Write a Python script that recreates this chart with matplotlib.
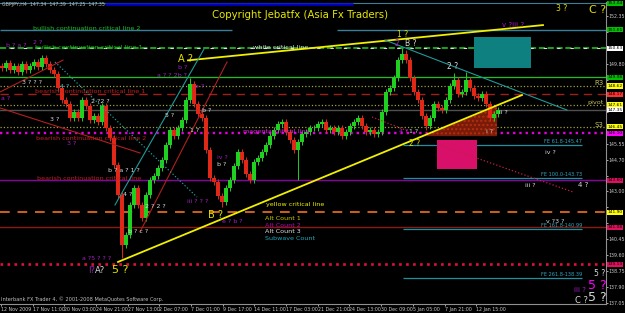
import matplotlib
matplotlib.use("Agg")
import matplotlib.pyplot as plt
import numpy as np
from matplotlib.patches import Rectangle, Polygon

# GBPJPY H4, one candle = two H4 bars, closes
closes = [149.58, 149.84, 149.47, 149.68, 149.36, 149.79, 149.47, 149.68, 149.90, 149.63,
          150.11, 149.79, 149.47, 149.26, 148.51, 147.87, 147.66, 146.91, 147.23, 146.91,
          147.87, 147.55, 146.81, 147.02, 146.70, 147.55, 146.38, 145.85, 144.41, 142.81,
          140.14, 140.68, 142.28, 143.18, 142.28, 141.58, 142.81, 143.61, 143.82, 144.25,
          144.67, 145.47, 146.27, 145.95, 146.38, 146.81, 147.87, 148.73, 147.66, 147.13,
          146.91, 145.21, 143.71, 143.50, 142.75, 142.44, 143.18, 143.61, 144.35, 145.10,
          144.67, 143.93, 143.61, 144.57, 144.78, 145.10, 145.47, 145.95, 146.27, 146.59,
          146.70, 146.17, 145.74, 145.21, 145.63, 146.06, 146.17, 146.38, 146.38, 146.59,
          146.70, 146.27, 146.38, 146.17, 146.38, 145.95, 146.17, 146.49, 146.70, 146.91,
          146.49, 146.17, 146.27, 146.06, 146.17, 147.23, 148.30, 148.51, 149.05, 150.00,
          150.32, 150.00, 149.05, 148.30, 147.87, 147.02, 146.49, 146.91, 147.66, 147.45,
          147.34, 147.87, 148.62, 148.94, 148.19, 148.30, 148.94, 148.51, 148.09, 147.98,
          148.19, 147.66, 146.91, 147.13, 147.34]
first_open = 149.70

# long wicks
spike_idx = [10, 30, 47, 55, 74, 100, 101, 106, 113, 116]
spike_px = [150.16, 139.45, 149.05, 142.17, 143.61, 150.64, 150.54, 146.27, 149.31, 149.37]

dates = ["12 Nov 2009", "17 Nov 11:00", "20 Nov 03:00", "24 Nov 21:00", "27 Nov 13:00",
         "2 Dec 07:00", "7 Dec 01:00", "9 Dec 17:00", "14 Dec 11:00", "17 Dec 03:00",
         "21 Dec 21:00", "24 Dec 13:00", "30 Dec 09:00", "5 Jan 05:00", "7 Jan 21:00",
         "12 Jan 15:00"]

price_ticks = [152.35, 151.50, 150.65, 149.80, 148.95, 148.10, 147.25, 146.40, 145.55, 144.70,
               143.85, 143.00, 142.15, 141.30, 140.45, 139.60, 138.75, 137.90, 137.05]

# horizontal levels: price, colour, style, width
levels = [
    (153.04, "#3a7f9a", "-", 0.8),
    (150.63, "#20c020", "--", 1.2),
    (149.08, "#20c020", "-", 0.9),
    (148.62, "#a0a040", ":", 0.9),
    (148.17, "#a02018", (0, (6, 4)), 1.0),
    (147.61, "#a0a040", ":", 0.9),
    (147.35, "#505050", "-", 1.0),
    (146.45, "#a0a040", ":", 0.9),
    (146.10, "#e000e0", ":", 1.7),
    (143.60, "#8a00a0", "-", 1.0),
    (141.90, "#d06018", (0, (5, 4)), 1.4),
    (141.08, "#8b1a10", "-", 1.0),
    (139.13, "#e0103c", ":", 1.9),
]
bull_line2 = 151.61

# right axis price boxes
price_boxes = [
    (153.04, "#00c000"), (151.61, "#00c000"), (150.63, "#ffffff"), (149.08, "#00c000"),
    (148.62, "#ffff00"), (148.17, "#ff3030"), (147.61, "#ffff00"), (147.35, "#ffffff"),
    (146.45, "#ffff00"), (146.10, "#ff00ff"), (143.60, "#e01060"), (141.90, "#ffff00"),
    (141.08, "#e01060"), (139.13, "#e01060"),
]

# fibonacci expansion levels
fe_levels = [145.47, 143.73, 140.99, 138.39]
fe_names = ["FE 61.8-145.47", "FE 100.0-143.73", "FE 161.8-140.99", "FE 261.8-138.39"]

# trend lines (bar index, price)
yellow_lines = [((29.0, 139.24), (130.0, 148.14)), ((46.5, 149.99), (135.25, 151.87))]
teal_lines = [((28.25, 142.28), (50.5, 150.59)), ((95.75, 151.07), (141.25, 147.34))]
red_lines = [((34.5, 140.84), (56.25, 149.90)), ((-0.5, 148.30), (15.25, 150.00)),
             ((-0.5, 147.45), (34.5, 145.05))]
teal_dotted = [((13.25, 149.90), (48.75, 142.70))]
red_dotted = [((92.5, 146.97), (101.5, 146.22)), ((109.5, 145.47), (142.75, 142.97))]

fig = plt.figure(figsize=(6.25, 3.13), dpi=100, facecolor="black")
ax = fig.add_axes([0, 0.0288, 0.9696, 0.9648])
ax.set_facecolor("black")
ax.set_xlim(-0.5, 151)
ax.set_ylim(137.0, 153.1)

for p, c, ls, lw in levels:
    ax.axhline(p, color=c, ls=ls, lw=lw, zorder=1)
ax.hlines(bull_line2, -0.5, 57.5, color="#3a7f9a", lw=1.0, zorder=1)
ax.hlines(bull_line2, 83.75, 151, color="#3a7f9a", lw=1.0, zorder=1)
ax.axhline(150.63, color="#e0e0e0", ls=(3, (3, 9)), lw=0.8, zorder=1)

for p in fe_levels:
    ax.hlines(p, 100.25, 145, color="#2090a0", lw=0.9, zorder=2)
for p, name in zip(fe_levels, fe_names):
    ax.text(145, p + 0.04, name, color="#30a8c0", fontsize=3.6, ha="right", va="bottom")

# zones
ax.add_patch(Rectangle((118, 149.58), 14.25, 1.65, fc="#0f8080", ec="none", zorder=2))
ax.add_patch(Rectangle((108.75, 144.19), 10, 1.55, fc="#d8106a", ec="none", zorder=2))
ax.add_patch(Polygon([(105.75, 145.95), (123.75, 147.55), (123.75, 145.95)],
                     fc="#7a1a08", ec="#b03010", hatch="....", lw=0, zorder=2))

# candles
x = np.arange(len(closes))
opens = np.r_[first_open, closes[:-1]]
cl = np.array(closes)
up = cl >= opens
cols = np.where(up, "#20d020", "#e02818")
lo = np.minimum(opens, cl) - 0.15
hi = np.maximum(opens, cl) + 0.15
for i, s in zip(spike_idx, spike_px):
    if s > hi[i]:
        hi[i] = s
    elif s < lo[i]:
        lo[i] = s
ax.vlines(x, lo, hi, colors=cols, lw=0.7, zorder=3)
ax.bar(x, cl - opens, bottom=opens, width=0.8, color=cols, zorder=3)

def seg(lines, **kw):
    for (x0, y0), (x1, y1) in lines:
        ax.plot([x0, x1], [y0, y1], **kw)

seg(yellow_lines, color="#f0f000", lw=1.3, zorder=4)
seg(teal_lines, color="#1f9a9a", lw=0.8, zorder=4)
seg(red_lines, color="#b02020", lw=0.8, zorder=4)
seg(teal_dotted, color="#1f9a9a", lw=0.9, ls=":", zorder=4)
seg(red_dotted, color="#c02040", lw=0.9, ls=":", zorder=4)

# line names
small = 4.6
ax.text(7.75, 151.71, "bullish continuation critical line 2", color="#20c020", fontsize=small, va="center")
ax.text(8.25, 150.70, "bullish continuation critical line 1", color="#20c020", fontsize=small, va="center")
ax.text(62.75, 150.70, "white critical line", color="#e0e0e0", fontsize=small, va="center")
ax.text(8.25, 148.35, "bearish continuation critical line 1", color="#c02020", fontsize=small, va="center")
ax.text(8.5, 145.82, "bearish continuation critical line 2", color="#c02020", fontsize=small, va="center")
ax.text(60.25, 146.20, "magenta critical line", color="#e020e0", fontsize=small, va="center")
ax.text(8.75, 143.71, "bearish continuation critical line", color="#c02020", fontsize=small, va="center")
ax.text(66, 142.28, "yellow critical line", color="#f0f000", fontsize=small, va="center")
ax.text(150.4, 148.80, "R3", color="#c0c060", fontsize=5, ha="right", va="center")
ax.text(150.4, 147.73, "pivot", color="#c0c060", fontsize=4.6, ha="right", va="center")
ax.text(150.4, 146.56, "S3", color="#c0c060", fontsize=5, ha="right", va="center")

legend = [("Alt Count 1", "#c8c800"), ("Alt Count 2", "#c000c0"),
          ("Alt Count 3", "#e0e0e0"), ("Subwave Count", "#20a8b8")]
for k, (name, c) in enumerate(legend):
    ax.text(65.75, 141.58 - 0.37 * k, name, color=c, fontsize=small, va="center")

ax.text(52.5, 152.40, "Copyright Jebatfx (Asia Fx Traders)", color="#e8e800", fontsize=7.3, va="center")

# wave labels
Y, P, W, T = "#e0e000", "#a020c0", "#d8d8d8", "#30b0c0"
waves = [
    (45.75, 150.05, "A ?", Y, 7), (53.25, 141.74, "B ?", Y, 7), (100.25, 151.35, "1 ?", Y, 5.5),
    (140.0, 152.78, "3 ?", Y, 5.5), (148.8, 152.67, "C ?", Y, 8), (29.5, 138.81, "5 ?", Y, 8),
    (103.25, 145.58, "2 ?", Y, 5.5),
    (22.5, 138.81, "I?", P, 6), (98.8, 150.90, "2", P, 5.5), (127.75, 151.87, "v ?iii ?", P, 5),
    (144.6, 137.74, "iii ?", P, 5), (148.8, 137.96, "5 ?", "#ff00ff", 9),
    (0.9, 147.93, "a ?", P, 4.5), (17.5, 145.53, "3 ?", P, 4.5), (3.5, 150.80, "b ? a ?", P, 4.5),
    (9.0, 150.93, "2 ?", P, 4.5), (55.0, 144.83, "iv ?", P, 4.5), (57.5, 141.42, "e ? b ?", P, 4.5),
    (45.25, 149.62, "b ?", P, 4.5), (42.5, 149.20, "a ? ? 2b ?", P, 4.5), (49.5, 148.57, "e ?", P, 4.5),
    (100.5, 146.17, "4 ?", P, 4.5), (23.75, 139.45, "a ?5 ? ? ?", P, 4.5), (49.0, 142.44, "iii ? ? ?", P, 4.5),
    (102.2, 150.90, "B ?", W, 5.5), (112.75, 149.68, "2 ?", W, 5.5), (24.5, 138.81, "A?", W, 6),
    (149.3, 138.60, "5 ?", W, 5.5), (144.9, 137.21, "C ?", W, 6), (148.8, 137.37, "5 ?", W, 9),
    (145.25, 143.34, "4 ?", W, 5), (132.0, 143.34, "iii ?", W, 4.5), (137.0, 145.05, "iv ?", W, 4.5),
    (138.25, 141.40, "v ?3 ?", W, 4.5), (125.25, 147.23, "ii ?", W, 4.5), (122.0, 146.17, "i ?", W, 4.5),
    (103.0, 146.17, "1 ?", W, 4.5), (7.5, 148.83, "3 ? ? ?", W, 4.5), (24.5, 147.82, "2 ?2 ?", W, 4.5),
    (13.25, 146.86, "3 ?", W, 4.5), (31.5, 142.86, "4 ?", W, 4.5), (38.25, 142.22, "2 ? 2 ?", W, 4.5),
    (42.0, 147.07, "5 ?", W, 4.5), (48.25, 146.27, "1 ?", W, 4.5), (51.25, 147.34, "b ?", W, 4.5),
    (55.0, 144.46, "b ?", W, 4.5), (30.5, 144.14, "b ? a ? 1 ?", W, 4.5), (34.0, 140.84, "b ? c ?", W, 4.5),
    (15.75, 148.62, "4 ?", T, 4.5),
]
for wx, wy, s, c, fs in waves:
    ax.text(wx, wy, s, color=c, fontsize=fs, ha="center", va="center", zorder=5)

# axes styling
for side in ("top", "left"):
    ax.spines[side].set_visible(False)
for side in ("right", "bottom"):
    ax.spines[side].set_color("#909090")
    ax.spines[side].set_linewidth(0.8)
ax.yaxis.tick_right()
ax.set_yticks(price_ticks)
# tick labels hidden where a level box sits on top of them
box_prices = [p for p, _ in price_boxes]
ax.set_yticklabels([f"{p:.2f}" if min(abs(p - b) for b in box_prices) > 0.3 else ""
                    for p in price_ticks])
ax.set_xticks(np.arange(len(dates)) * 7.92 - 0.25)
ax.set_xticklabels(dates, ha="left")
ax.tick_params(colors="#c8c8c8", length=1.5, width=0.6, pad=0.6)
ax.tick_params(axis="y", labelsize=3.4)
ax.tick_params(axis="x", labelsize=3.4)

tr = ax.get_yaxis_transform()
for p, c in price_boxes:
    ax.text(1.002, p, f"{p:.2f}", transform=tr, fontsize=3.2, color="black", va="center",
            ha="left", clip_on=False, zorder=6,
            bbox=dict(boxstyle="square,pad=0.12", fc=c, ec="none"))

ax.text(-0.25, 137.26, "Interbank FX Trader 4, \u00a9 2001-2008 MetaQuotes Software Corp.",
        color="#c0c0c0", fontsize=3.6, va="center")
fig.text(0.003, 0.987, "GBPJPY,H4  147.34  147.39  147.25  147.35", color="#c0c0c0", fontsize=3.4, va="center")
ax.hlines(153.0, 25.75, 87.75, color="#0000d0", lw=1.8, zorder=6)

fig.savefig("out.png", dpi=100, facecolor="black")
